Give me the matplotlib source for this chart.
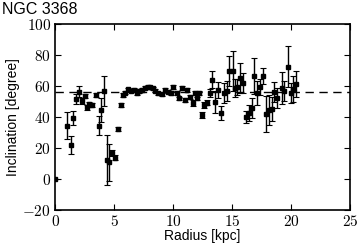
import matplotlib
matplotlib.use('Agg')
import matplotlib.pyplot as plt

# data
radius = [0.0, 1.05, 1.36, 1.55, 1.75, 2.03, 2.26, 2.54, 2.74, 2.9,
          3.1, 3.45, 3.73, 3.9, 4.15, 4.38, 4.6, 4.83, 5.08, 5.3,
          5.6, 5.79, 5.93, 6.2, 6.44, 6.7, 6.92, 7.14, 7.4, 7.63,
          7.86, 8.05, 8.28, 8.47, 8.76, 9.04, 9.32, 9.6, 9.8, 10.03,
          10.3, 10.5, 10.8, 11.0, 11.2, 11.44, 11.67, 11.86, 12.0, 12.23,
          12.43, 12.65, 12.86, 13.1, 13.33, 13.56, 13.84, 14.04, 14.3, 14.55,
          14.75, 15.05, 15.25, 15.45, 15.7, 15.96, 16.2, 16.44, 16.67, 16.9,
          17.14, 17.37, 17.6, 17.9, 18.14, 18.36, 18.59, 18.8, 19.25, 19.45,
          19.75, 19.97, 20.2, 20.42]
incl = [0.0, 34.5, 22.0, 39.5, 51.4, 56.3, 50.5, 53.5, 46.2, 48.2,
        47.7, 54.2, 34.5, 44.5, 56.8, 12.3, 10.8, 17.0, 13.7, 32.2,
        47.7, 54.2, 55.7, 57.8, 57.0, 57.4, 55.3, 56.8, 57.4, 58.9,
        59.5, 59.1, 58.5, 57.0, 55.3, 54.6, 57.4, 56.3, 55.5, 59.5,
        55.7, 52.0, 58.5, 51.0, 57.4, 53.0, 49.2, 55.3, 52.0, 55.7,
        41.3, 47.7, 49.2, 55.3, 63.9, 49.9, 57.4, 42.4, 55.7, 56.8,
        69.7, 69.9, 58.5, 59.5, 65.3, 61.7, 40.2, 42.4, 45.6, 66.7,
        55.3, 59.5, 66.7, 42.0, 44.5, 45.0, 56.0, 52.0, 58.5, 57.0,
        72.5, 55.3, 58.0, 61.0]
err = [0.0, 8.7, 5.8, 4.6, 3.2, 3.5, 2.0, 1.5, 1.5, 1.5,
       1.5, 1.5, 6.4, 7.7, 9.4, 16.0, 11.8, 2.0, 1.5, 1.2,
       1.2, 1.0, 1.0, 1.0, 1.0, 1.0, 1.0, 1.0, 1.0, 1.0,
       1.0, 1.0, 1.0, 1.0, 1.0, 1.0, 1.0, 1.0, 1.0, 1.2,
       1.2, 1.2, 1.2, 1.2, 1.2, 1.2, 2.0, 1.2, 1.2, 1.2,
       2.0, 2.0, 1.5, 2.6, 5.5, 7.1, 5.2, 4.5, 6.5, 6.5,
       9.7, 13.0, 5.8, 5.2, 9.7, 6.5, 3.9, 5.2, 6.5, 11.6,
       7.7, 5.2, 5.2, 11.6, 9.7, 7.7, 6.5, 6.5, 10.3, 6.5,
       13.0, 6.5, 8.4, 8.4]
mean_incl = 56

xticks = [0, 5, 10, 15, 20, 25]
yticks = [-20, 0, 20, 40, 60, 80, 100]

plt.rcParams['mathtext.fontset'] = 'cm'
plt.rcParams['font.family'] = ['Liberation Sans', 'DejaVu Sans']

fig = plt.figure(figsize=(3.6, 2.5), dpi=100)
ax = fig.add_axes([0.153, 0.16, 0.819, 0.744])

ax.errorbar(radius, incl, yerr=err, fmt='s', color='black', markersize=3.0,
            elinewidth=1.0, capsize=2, capthick=0.8)
ax.axhline(mean_incl, color='black', linestyle='--', linewidth=1.0, dashes=(6, 4))

ax.set_xlim(0, 25)
ax.set_ylim(-20, 100)
ax.set_xticks(xticks)
ax.set_yticks(yticks)
ax.set_xticklabels(['$%d$' % t for t in xticks], fontsize=11)
ax.set_yticklabels(['$%d$' % t for t in yticks], fontsize=11)
ax.tick_params(direction='in', top=True, right=True, length=4, width=0.8, pad=3)
for s in ax.spines.values():
    s.set_linewidth(1.2)

ax.set_xlabel('Radius [kpc]', fontsize=10, labelpad=0)
ax.set_ylabel('Inclination [degree]', fontsize=10, labelpad=2)
fig.text(0.005, 0.99, 'NGC 3368', fontsize=11.5, ha='left', va='top')

fig.savefig('out.png', dpi=100)
